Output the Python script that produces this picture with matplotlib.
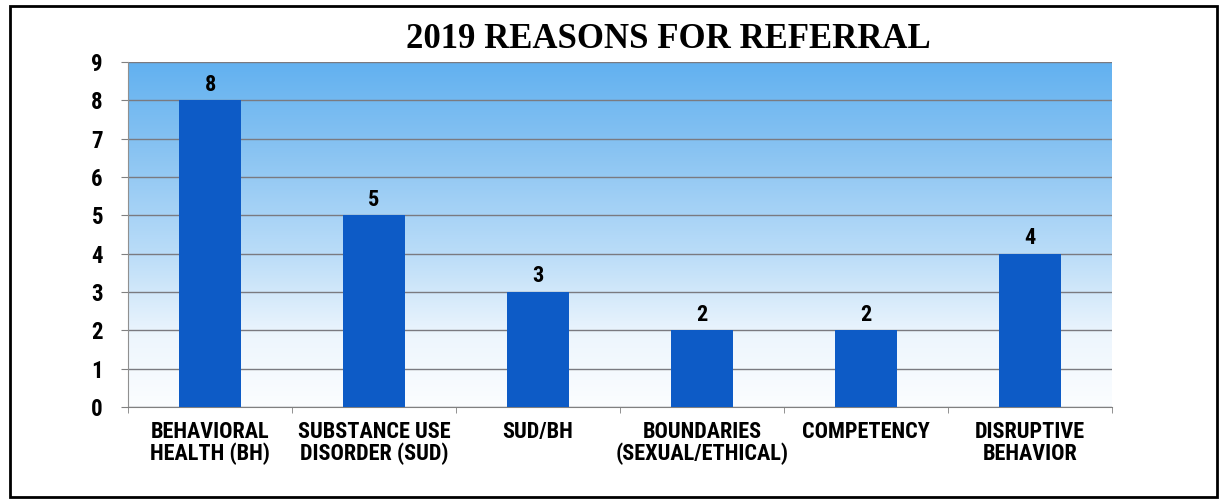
import os
import numpy as np
import matplotlib
matplotlib.use('Agg')
import matplotlib.pyplot as plt
from matplotlib import font_manager
from matplotlib.colors import LinearSegmentedColormap
from matplotlib.patches import Rectangle

# datos del gráfico
categorias = ['BEHAVIORAL\nHEALTH (BH)', 'SUBSTANCE USE\nDISORDER (SUD)', 'SUD/BH',
              'BOUNDARIES\n(SEXUAL/ETHICAL)', 'COMPETENCY', 'DISRUPTIVE\nBEHAVIOR']
valores = [8, 5, 3, 2, 2, 4]
ticks_y = [0, 1, 2, 3, 4, 5, 6, 7, 8, 9]

# buscar una fuente estrecha en negrita (tipo Calibri) entre las del sistema
candidatas = []
for f in font_manager.findSystemFonts():
    n = os.path.basename(f).lower().replace(' ', '').replace('_', '').replace('-', '')
    if ('narrow' in n or 'condensed' in n) and 'bold' in n:
        if any(p in n for p in ['italic', 'oblique', 'semi', 'extra', 'light']):
            continue
        candidatas.append((n, f))
orden = ['liberationsansnarrow', 'opensans', 'roboto', 'notosans', 'dejavusans']
elegida = None
for clave in orden:
    for n, f in candidatas:
        if n.startswith(clave):
            elegida = f
            break
    if elegida:
        break
if elegida is None and candidatas:
    elegida = candidatas[0][1]
if elegida:
    fuente = font_manager.FontProperties(fname=elegida)
else:
    fuente = font_manager.FontProperties(family='DejaVu Sans', weight='bold')
es_dejavu = elegida is None or 'dejavu' in elegida.lower()
t_lbl = 13.5 if es_dejavu else 16

fig = plt.figure(figsize=(12.2, 5.03), dpi=100)
ax = fig.add_axes([128 / 1220, 1 - 407 / 503, 984 / 1220, 345 / 503])

# fondo degradado azul -> blanco
cmap = LinearSegmentedColormap.from_list('fondo', [(0, '#fbfdff'), (0.2, '#eef6fd'),
                                                    (0.45, '#b9dcf8'), (0.75, '#88c3f2'),
                                                    (1, '#62b1f0')])
grad = np.linspace(0, 1, 256).reshape(-1, 1)
ax.imshow(grad, aspect='auto', cmap=cmap, origin='lower',
          extent=[-0.5, len(valores) - 0.5, 0, 9], zorder=0)

x = np.arange(len(valores))
barras = ax.bar(x, valores, width=0.38, color='#0d5bc6', zorder=3)

for xi, v in zip(x, valores):
    ax.text(xi, v + 0.12, str(v), ha='center', va='bottom', fontproperties=fuente,
            fontsize=16, zorder=4)

ax.set_xlim(-0.5, len(valores) - 0.5)
ax.set_ylim(0, 9)
ax.set_yticks(ticks_y)
ax.set_yticklabels([str(t) for t in ticks_y], fontproperties=fuente, fontsize=16.5)
ax.yaxis.grid(True, color='#7a7a80', linewidth=1.0, zorder=1)
ax.set_axisbelow(True)

ax.set_xticks(x)
ax.set_xticklabels(categorias, fontproperties=fuente, fontsize=t_lbl, linespacing=1.0)
ax.set_xticks(np.arange(-0.5, len(valores)), minor=True)
ax.tick_params(axis='x', which='major', length=0, pad=10)
ax.tick_params(axis='x', which='minor', length=4, color='#808080')
ax.tick_params(axis='y', length=5, color='#808080', pad=13)

for lado in ['top', 'right']:
    ax.spines[lado].set_visible(False)
ax.spines['left'].set_color('#909090')
ax.spines['bottom'].set_color('#808080')

fig.text(668 / 1220, 1 - 40 / 503, '2019 REASONS FOR REFERRAL', ha='center', va='center',
         fontsize=25, fontweight='bold', family='Liberation Serif')

# marco exterior
fig.patches.append(Rectangle((10 / 1220, 6 / 503), 1207 / 1220, 491 / 503, fill=False,
                             edgecolor='black', linewidth=2, transform=fig.transFigure))

fig.savefig('out.png', dpi=100)
